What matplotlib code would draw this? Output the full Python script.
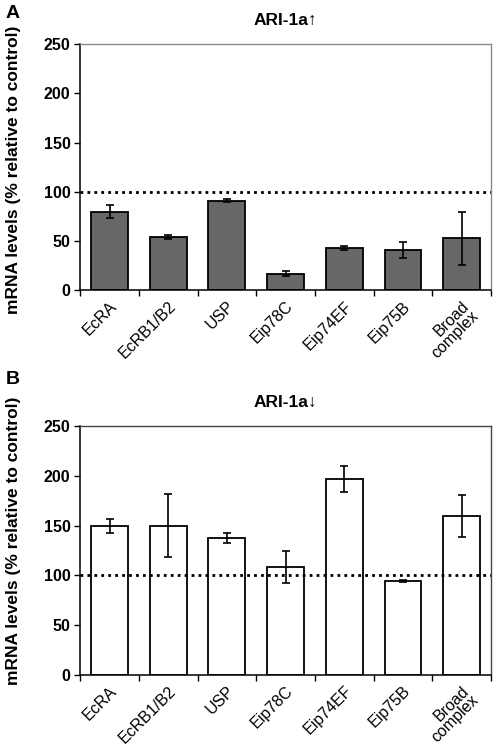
import matplotlib
matplotlib.use("Agg")
import matplotlib.pyplot as plt
import numpy as np

plt.rcParams['font.family'] = ['Liberation Sans', 'DejaVu Sans']

genes = ["EcRA", "EcRB1/B2", "USP", "Eip78C", "Eip74EF", "Eip75B", "Broad\ncomplex"]

# ARI-1a up (panel A)
up_vals = [80, 54, 91, 17, 43, 41, 53]
up_err = [7, 2, 1.5, 3, 2, 8.5, 27]

# ARI-1a down (panel B)
down_vals = [150, 150, 138, 108, 197, 94, 160]
down_err = [7, 32, 5, 16, 13, 1, 21]


def panel(ax, vals, errs, color, title, border, label_y):
    x = np.arange(len(genes))
    ax.bar(x, vals, width=0.63, color=color, edgecolor="black", linewidth=1.3, zorder=2)
    ax.errorbar(x, vals, yerr=errs, fmt="none", ecolor="black", elinewidth=1.2,
                capsize=3, capthick=1.2, zorder=3)
    ax.axhline(100, color="black", linestyle=(0, (1, 1.5)), linewidth=2, zorder=4)
    ax.set_xlim(-0.5, len(genes) - 0.5)
    ax.set_ylim(0, 250)
    ax.set_yticks([0, 50, 100, 150, 200, 250])
    ax.set_yticklabels([str(v) for v in [0, 50, 100, 150, 200, 250]],
                       fontsize=11.5, fontweight="bold")
    ax.set_xticks(x)
    ax.set_xticklabels(genes, rotation=45, ha="right", rotation_mode="anchor",
                       fontsize=11.5, linespacing=0.85)
    ax.tick_params(axis="x", length=0, pad=6)
    ax.set_xticks(np.arange(-0.5, len(genes)), minor=True)
    ax.tick_params(axis="x", which="minor", length=4, direction="out", width=1)
    ax.tick_params(axis="y", length=4, direction="out", width=1, pad=3)
    for s in ["left", "bottom"]:
        ax.spines[s].set_color("black")
        ax.spines[s].set_linewidth(1.1)
    for s in ["top", "right"]:
        ax.spines[s].set_color(border)
        ax.spines[s].set_linewidth(1.0)
    ax.set_title(title, fontsize=12.5, fontweight="bold", pad=14)
    ax.set_ylabel("mRNA levels (% relative to control)", fontsize=12.5,
                  fontweight="bold")
    ax.yaxis.set_label_coords(-0.143, label_y)


fig = plt.figure(figsize=(4.98, 7.5), dpi=100)
axA = fig.add_axes([0.161, 0.613, 0.825, 0.328])
axB = fig.add_axes([0.161, 0.100, 0.825, 0.332])

panel(axA, up_vals, up_err, "#676767", "ARI-1a\u2191", "#8a8a8a", 0.49)
panel(axB, down_vals, down_err, "white", "ARI-1a\u2193", "#444444", 0.54)

fig.text(0.012, 0.993, "A", fontsize=14, fontweight="bold", va="top")
fig.text(0.012, 0.505, "B", fontsize=14, fontweight="bold", va="top")

fig.savefig("out.png", dpi=100)
